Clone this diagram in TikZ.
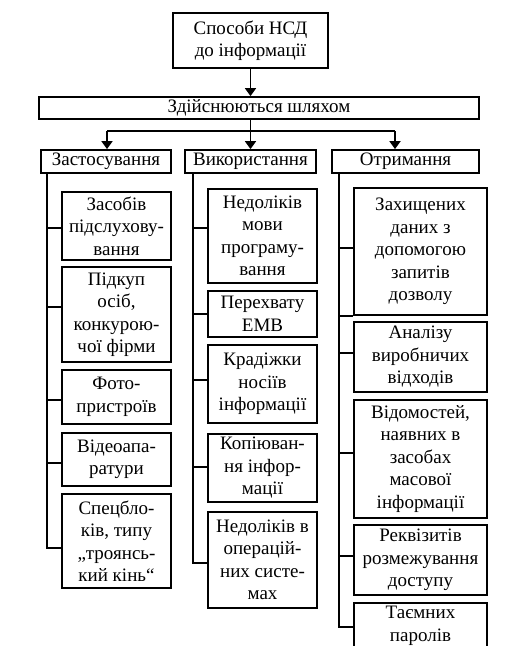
\documentclass[tikz,border=0pt]{standalone}
\usepackage{fontspec}
\setmainfont{Liberation Serif}
\usetikzlibrary{arrows.meta}
\begin{document}
\begin{tikzpicture}[x=1pt,y=-1pt,
  box/.style={draw, line width=1.8pt, align=center, inner sep=0pt, font=\fontsize{19}{22.5}\selectfont},
  conn/.style={line width=1.8pt},
  arr/.style={line width=1.8pt,-{Triangle[length=8pt,width=11pt]}}]
\useasboundingbox (0,0) rectangle (511,646);
\fill[white] (0,0) rectangle (511,646);
\begin{scope}
\clip (0,0) rectangle (511,646);
% top
\node[box, minimum width=155, minimum height=55] (top) at (250.5,40.5) {Способи НСД\\до інформації};
\node[box, minimum width=440, minimum height=22] (bar) at (259,108) {Здійснюються шляхом};
% categories
\node[box, minimum width=130, minimum height=23] (zast) at (106,161.5) {Застосування};
\node[box, minimum width=131, minimum height=23] (vyk) at (250.5,161.5) {Використання};
\node[box, minimum width=147, minimum height=23] (otr) at (405.5,161.5) {Отримання};
% left column
\node[box, minimum width=109, minimum height=68] (l1) at (116.5,226) {Засобів\\підслухову-\\вання};
\node[box, minimum width=109, minimum height=95] (l2) at (116.5,314.5) {Підкуп\\осіб,\\конкурою-\\чої фірми};
\node[box, minimum width=109, minimum height=54] (l3) at (116.5,397) {Фото-\\пристроїв};
\node[box, minimum width=109, minimum height=53] (l4) at (116.5,459.5) {Відеоапа-\\ратури};
\node[box, minimum width=109, minimum height=94] (l5) at (116.5,541) {Спецбло-\\ків, типу\\„троянсь-\\кий кінь“};
% middle column
\node[box, minimum width=109, minimum height=94] (m1) at (262.5,236) {Недоліків\\мови\\програму-\\вання};
\node[box, minimum width=109, minimum height=46] (m2) at (262.5,314) {Перехвату\\ЕМВ};
\node[box, minimum width=109, minimum height=78] (m3) at (262.5,384) {Крадіжки\\носіїв\\інформації};
\node[box, minimum width=109, minimum height=68] (m4) at (262.5,468) {Копіюван-\\ня інфор-\\мації};
\node[box, minimum width=109, minimum height=96] (m5) at (262.5,560) {Недоліків в\\операцій-\\них систе-\\мах};
% right column
\node[box, minimum width=133, minimum height=127] (r1) at (420.5,251.5) {Захищених\\даних з\\допомогою\\запитів\\дозволу};
\node[box, minimum width=133, minimum height=70] (r2) at (420.5,357) {Аналізу\\виробничих\\відходів};
\node[box, minimum width=133, minimum height=118] (r3) at (420.5,459) {Відомостей,\\наявних в\\засобах\\масової\\інформації};
\node[box, minimum width=133, minimum height=70] (r4) at (420.5,560) {Реквізитів\\розмежування\\доступу};
\node[box, minimum width=133, minimum height=46] (r5) at (420.5,626) {Таємних\\паролів};
% top connectors
\draw[arr] (top.south) -- (top.south |- bar.north);
\coordinate (hl) at (107,131);
\coordinate (hr) at (395,131);
\draw[arr] (bar.south -| top.south) -- (vyk.north -| top.south);
\draw[conn] (hl) -- (hr);
\draw[arr] (hl) -- (hl |- zast.north);
\draw[arr] (hr) -- (hr |- otr.north);
% spines
\coordinate (ls) at (47,172.5);
\coordinate (ms) at (193,172.5);
\coordinate (rs) at (339,172.5);
\draw[conn] (ls) -- (ls |- 0,549);
\draw[conn] (ms) -- (ms |- 0,564);
\draw[conn] (rs) -- (rs |- 0,628);
% left branches
\draw[conn] (l1.west |- 0,228) -- (ls |- 0,228);
\draw[conn] (l2.west |- 0,307) -- (ls |- 0,307);
\draw[conn] (l3.west |- 0,400) -- (ls |- 0,400);
\draw[conn] (l4.west |- 0,463) -- (ls |- 0,463);
\draw[conn] (l5.west |- 0,548) -- (ls |- 0,548);
% middle branches
\draw[conn] (m1.west |- 0,228) -- (ms |- 0,228);
\draw[conn] (m2.west |- 0,314) -- (ms |- 0,314);
\draw[conn] (m3.west |- 0,380) -- (ms |- 0,380);
\draw[conn] (m4.west |- 0,467) -- (ms |- 0,467);
\draw[conn] (m5.west |- 0,563) -- (ms |- 0,563);
% right branches
\draw[conn] (r1.west |- 0,248) -- (rs |- 0,248);
\draw[conn] (r1.south west) -- (rs |- r1.south west);
\draw[conn] (r2.west |- 0,353) -- (rs |- 0,353);
\draw[conn] (r3.west |- 0,453) -- (rs |- 0,453);
\draw[conn] (r4.west |- 0,556) -- (rs |- 0,556);
\draw[conn] (r5.west |- 0,627) -- (rs |- 0,627);
\end{scope}
\end{tikzpicture}
\end{document}
